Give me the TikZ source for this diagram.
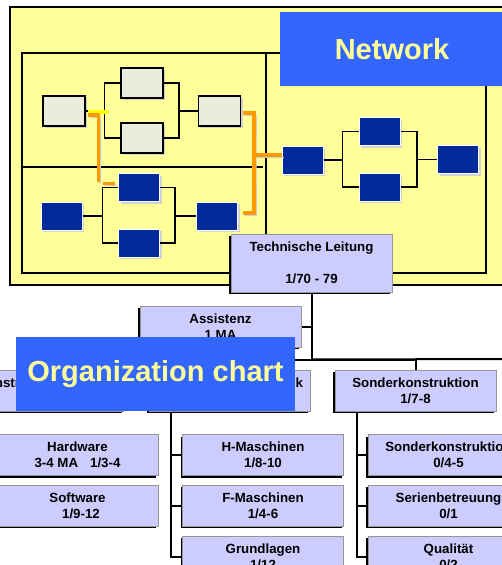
\documentclass[tikz,border=0pt]{standalone}
\usepackage{fontspec}
\setmainfont{Liberation Sans}
\usetikzlibrary{shadows}

\definecolor{paleyellow}{RGB}{255,255,153}
\definecolor{bannerblue}{RGB}{51,102,255}
\definecolor{netblue}{RGB}{0,41,153}
\definecolor{netgrey}{RGB}{236,236,220}
\definecolor{orgfill}{RGB}{204,204,255}
\definecolor{orgedge}{RGB}{150,150,150}
\definecolor{hilite}{RGB}{255,153,0}
\definecolor{barYellow}{RGB}{255,255,0}
\newcommand\orgfont{\bfseries\fontsize{13.3}{16}\selectfont}
\newcommand\bannerfont{\bfseries\fontsize{29}{34}\selectfont}

\tikzset{
  greybox/.style={draw=black, fill=netgrey, line width=1.2pt, minimum width=42pt, minimum height=30pt, inner sep=0pt,
    general shadow={fill=black!18, shadow xshift=2pt, shadow yshift=-2pt}},
  bluebox/.style={draw=white, fill=netblue, line width=1pt, minimum width=41pt, minimum height=28pt, inner sep=0pt,
    general shadow={fill=black!18, shadow xshift=2pt, shadow yshift=-2pt}},
  orgbox/.style={draw=orgedge, fill=orgfill, line width=1pt, minimum width=161pt, minimum height=41pt, inner sep=0pt,
    align=center, font=\orgfont, general shadow={fill=black, shadow xshift=-2pt, shadow yshift=-2pt}},
  banner/.style={fill=bannerblue, text=paleyellow, font=\bannerfont, minimum height=74pt, inner sep=0pt},
  netline/.style={black, line width=1.4pt},
  orgline/.style={black, line width=2pt},
  hiliteline/.style={hilite, line width=3.5pt, preaction={draw=black!20, transform canvas={shift={(2pt,-2pt)}}}},
}

\begin{document}
\begin{tikzpicture}[x=1pt,y=-1pt]

\useasboundingbox (0,0) rectangle (502,565);
\clip (0,0) rectangle (502,565);

% yellow network panel
\draw[black, line width=2pt, fill=paleyellow] (10,7) rectangle (520,285);
\draw[black, line width=1.6pt] (22,53) rectangle (486,273);
\draw[black, line width=1.6pt] (266,53) -- (266,273);
\draw[black, line width=1.6pt] (22,167) -- (263,167);

\node[banner, minimum width=224pt] (net) at (392,49) {Network};

\node[greybox] (g1) at (64,111) {};
\node[greybox] (g2) at (142,83) {};
\node[greybox] (g3) at (142,138) {};
\node[greybox] (g4) at (219.5,111) {};

\node[bluebox] (b1) at (61.5,216) {};
\node[bluebox] (b2) at (139,187.5) {};
\node[bluebox] (b3) at (139,243) {};
\node[bluebox] (b4) at (217,216) {};

\node[bluebox] (b5) at (302.5,160) {};
\node[bluebox] (b6) at (379.5,131.5) {};
\node[bluebox] (b7) at (379.5,187) {};
\node[bluebox] (b8) at (458,159.5) {};

\draw[netline] (g1.east) -- +(19,0) |- (g2.west);
\draw[netline] (g1.east) -- +(19,0) |- (g3.west);
\draw[netline] (g4.west) -- +(-19,0) |- (g2.east);
\draw[netline] (g4.west) -- +(-19,0) |- (g3.east);

\draw[netline] (b1.east) -- +(20,0) |- (b2.west);
\draw[netline] (b1.east) -- +(20,0) |- (b3.west);
\draw[netline] (b4.west) -- +(-21,0) |- (b2.east);
\draw[netline] (b4.west) -- +(-21,0) |- (b3.east);

\draw[netline] (b5.east) -- +(19,0) |- (b6.west);
\draw[netline] (b5.east) -- +(19,0) |- (b7.west);
\draw[netline] (b8.west) -- +(-20,0) |- (b6.east);
\draw[netline] (b8.west) -- +(-20,0) |- (b7.east);

% highlighted path
\draw[barYellow, line width=3.5pt] ([shift={(2,1)}]g1.east) -- ++(20,0);
\draw[hiliteline] ([shift={(2,4)}]g1.east) -- ++(11,0) -- ++(0,67);
\draw[hiliteline] ([shift={(-3,-4)}]b2.west) -- ++(-12,0);

\coordinate (spine) at (254,155);
\draw[hiliteline] ([shift={(2,2)}]g4.east) -| (spine) |- ([shift={(5,-3)}]b4.east);
\draw[hiliteline] (spine) -- (spine -| b5.west);

% organization chart
\node[orgbox, minimum height=58pt] (tl) at (311.5,263) {Technische Leitung\\\mbox{}\\1/70 - 79};
\node[orgbox] (as) at (220.5,326.5) {Assistenz\\1 MA};

\node[orgbox] (ke) at (43,390.5) {Konstruktion Elektro\\\mbox{}};
\node[orgbox] (km) at (229.5,390.5) {Konstruktion Mechanik\\\mbox{}};
\node[orgbox] (sk) at (415.5,390.5) {Sonderkonstruktion\\1/7-8};

\node[orgbox] (hw) at (77.5,455) {Hardware\\3-4 MA\hspace{12pt}1/3-4};
\node[orgbox] (sw) at (77.5,505.5) {Software\\\hspace*{7pt}1/9-12};

\node[orgbox] (hm) at (263,455) {H-Maschinen\\1/8-10};
\node[orgbox] (fm) at (263,505.5) {F-Maschinen\\1/4-6};
\node[orgbox] (gl) at (263,556.5) {Grundlagen\\1/12};

\node[orgbox] (sko) at (448.5,455) {Sonderkonstruktion\\0/4-5};
\node[orgbox] (sb) at (448.5,505.5) {Serienbetreuung\\0/1};
\node[orgbox] (qu) at (448.5,556.5) {Qualität\\0/2};

\draw[orgline] (tl.south) -- +(0,67) coordinate (bus);
\coordinate (busend) at (515,359);
\draw[orgline] (as.east) -- (as.east -| tl.south);
\draw[orgline] (ke.north) |- (bus);
\draw[orgline] (km.north) |- (bus);
\draw[orgline] (sk.north) |- (bus);
\draw[orgline] (bus) -- (busend);

\foreach \c in {hw,sw}
  \draw[orgline] ([xshift=22pt]ke.south west) |- (\c.west);
\foreach \c in {hm,fm,gl}
  \draw[orgline] ([xshift=22pt]km.south west) |- (\c.west);
\foreach \c in {sko,sb,qu}
  \draw[orgline] ([xshift=22pt]sk.south west) |- (\c.west);

\node[banner, minimum width=279pt] (org) at (155.5,374) {Organization chart};

\end{tikzpicture}
\end{document}
